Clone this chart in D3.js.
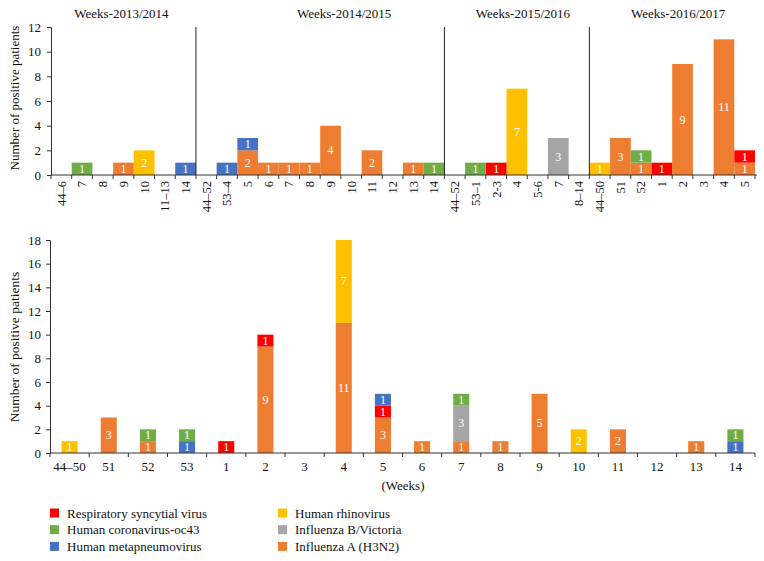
<!DOCTYPE html>
<html><head><meta charset="utf-8">
<script src="https://cdn.jsdelivr.net/npm/d3@7"></script>
<style>
body{margin:0;background:#fff;}
svg text{font-family:"Liberation Serif","Times New Roman",serif;}
</style></head>
<body><svg id="c" width="764" height="561"></svg>
<script>
// ---- data ----
const seriesNames = ["Influenza A (H3N2)","Influenza B/Victoria","Human rhinovirus","Respiratory syncytial virus","Human metapneumovirus","Human coronavirus-oc43"];
const seriesColors = ["#ED7D31","#A5A5A5","#FFC000","#FF0000","#4472C4","#70AD47"];
const legendOrder = ["Respiratory syncytial virus","Human coronavirus-oc43","Human metapneumovirus","Human rhinovirus","Influenza B/Victoria","Influenza A (H3N2)"];

const seasonNames = ["Weeks-2013/2014","Weeks-2014/2015","Weeks-2015/2016","Weeks-2016/2017"];
const seasonSizes = [7,12,7,8];
const topWeeks = ["44–6","7","8","9","10","11–13","14",
  "44–52","53–4","5","6","7","8","9","10","11","12","13","14",
  "44–52","53–1","2-3","4","5-6","7","8–14",
  "44–50","51","52","1","2","3","4","5"];
const topH3N2   = [0,0,0,1,0,0,0, 0,0,2,1,1,1,4,0,2,0,1,0, 0,0,0,0,0,0,0, 0,3,1,0,9,0,11,1];
const topBVic   = [0,0,0,0,0,0,0, 0,0,0,0,0,0,0,0,0,0,0,0, 0,0,0,0,0,3,0, 0,0,0,0,0,0,0,0];
const topRhino  = [0,0,0,0,2,0,0, 0,0,0,0,0,0,0,0,0,0,0,0, 0,0,0,7,0,0,0, 1,0,0,0,0,0,0,0];
const topRSV    = [0,0,0,0,0,0,0, 0,0,0,0,0,0,0,0,0,0,0,0, 0,0,1,0,0,0,0, 0,0,0,1,0,0,0,1];
const topMeta   = [0,0,0,0,0,0,1, 0,1,1,0,0,0,0,0,0,0,0,0, 0,0,0,0,0,0,0, 0,0,0,0,0,0,0,0];
const topCorona = [0,1,0,0,0,0,0, 0,0,0,0,0,0,0,0,0,0,0,1, 0,1,0,0,0,0,0, 0,0,1,0,0,0,0,0];
const topTicks = [0,2,4,6,8,10,12];

const botWeeks = ["44–50","51","52","53","1","2","3","4","5","6","7","8","9","10","11","12","13","14"];
const botH3N2   = [0,3,1,0,0,9,0,11,3,1,1,1,5,0,2,0,1,0];
const botBVic   = [0,0,0,0,0,0,0,0,0,0,3,0,0,0,0,0,0,0];
const botRhino  = [1,0,0,0,0,0,0,7,0,0,0,0,0,2,0,0,0,0];
const botRSV    = [0,0,0,0,1,1,0,0,1,0,0,0,0,0,0,0,0,0];
const botMeta   = [0,0,0,1,0,0,0,0,1,0,0,0,0,0,0,0,0,1];
const botCorona = [0,0,1,1,0,0,0,0,0,0,1,0,0,0,0,0,0,1];
const botTicks = [0,2,4,6,8,10,12,14,16,18];

// ---- drawing ----
const svg = d3.select("#c");
const color = d3.scaleOrdinal(seriesNames, seriesColors);

function buildRows(weeks, arrs){
  return weeks.map((w,i)=>{
    const r = {key:i, week:w};
    seriesNames.forEach((s,j)=>{ r[s]=arrs[j][i]; });
    return r;
  });
}

function drawStack(g, rows, x, y){
  const stacked = d3.stack().keys(seriesNames)(rows);
  stacked.forEach(layer=>{
    const lg = g.append("g");
    layer.forEach(d=>{
      const v = d[1]-d[0];
      if(v<=0) return;
      lg.append("rect")
        .attr("x", x(d.data.key)).attr("width", x.bandwidth())
        .attr("y", y(d[1])).attr("height", y(d[0])-y(d[1]))
        .attr("fill", color(layer.key));
      lg.append("text")
        .attr("x", x(d.data.key)+x.bandwidth()/2)
        .attr("y", (y(d[0])+y(d[1]))/2)
        .attr("dy","0.34em").attr("text-anchor","middle")
        .attr("fill","#fff").attr("font-size",12)
        .text(v);
    });
  });
}

// ---- top chart ----
const topRows = buildRows(topWeeks, [topH3N2,topBVic,topRhino,topRSV,topMeta,topCorona]);
const xT = d3.scaleBand().domain(topRows.map(d=>d.key)).range([51,755]).padding(0);
const yT = d3.scaleLinear().domain([0,12]).range([175,27]);
const gT = svg.append("g");
drawStack(gT, topRows, xT, yT);

const yAxT = gT.append("g").attr("transform","translate(51,0)")
  .call(d3.axisLeft(yT).tickValues(topTicks).tickSize(4).tickPadding(6).tickFormat(d3.format("d")));
yAxT.attr("font-family",null);
yAxT.selectAll("text").attr("font-size",13).attr("fill","#111");
yAxT.selectAll("line,path").attr("stroke","#333");

gT.append("line").attr("x1",51).attr("x2",757).attr("y1",175).attr("y2",175).attr("stroke","#333");
d3.range(topWeeks.length+1).forEach(i=>{
  const xx = 51 + i*xT.step();
  gT.append("line").attr("x1",xx).attr("x2",xx).attr("y1",175).attr("y2",179).attr("stroke","#333");
});
topRows.forEach(d=>{
  const cx = xT(d.key)+xT.bandwidth()/2;
  gT.append("text").attr("transform",`translate(${cx},181) rotate(-90)`)
    .attr("text-anchor","end").attr("dy","0.35em").attr("font-size",12.5).attr("fill","#111").text(d.week);
});
const titleShift = [-2, 24, 6, 6];
let acc = 0;
seasonNames.forEach((s,i)=>{
  const x0 = 51 + acc*xT.step();
  const x1 = 51 + (acc+seasonSizes[i])*xT.step();
  if(i>0){
    gT.append("line").attr("x1",x0).attr("x2",x0).attr("y1",27).attr("y2",175).attr("stroke","#222").attr("stroke-width",1);
  }
  gT.append("text").attr("x",(x0+x1)/2+titleShift[i]).attr("y",18).attr("text-anchor","middle")
    .attr("font-size",13).attr("fill","#111").text(s);
  acc += seasonSizes[i];
});
gT.append("text").attr("transform","translate(19,98) rotate(-90)").attr("text-anchor","middle")
  .attr("font-size",13).attr("fill","#111").text("Number of positive patients");

// ---- bottom chart ----
const botRows = buildRows(botWeeks, [botH3N2,botBVic,botRhino,botRSV,botMeta,botCorona]);
const xB = d3.scaleBand().domain(botRows.map(d=>d.key)).range([50,755]).paddingInner(0.59).paddingOuter(0.295);
const yB = d3.scaleLinear().domain([0,18]).range([453,240]);
const gB = svg.append("g");
drawStack(gB, botRows, xB, yB);

const yAxB = gB.append("g").attr("transform","translate(50,0)")
  .call(d3.axisLeft(yB).tickValues(botTicks).tickSize(4).tickPadding(5).tickFormat(d3.format("d")));
yAxB.attr("font-family",null);
yAxB.selectAll("text").attr("font-size",13).attr("fill","#111");
yAxB.selectAll("line,path").attr("stroke","#333");
gB.append("line").attr("x1",50).attr("x2",755).attr("y1",453).attr("y2",453).attr("stroke","#333");
d3.range(botWeeks.length+1).forEach(i=>{
  const xx = 50 + i*xB.step();
  gB.append("line").attr("x1",xx).attr("x2",xx).attr("y1",453).attr("y2",457).attr("stroke","#333");
});
botRows.forEach(d=>{
  gB.append("text").attr("x",xB(d.key)+xB.bandwidth()/2).attr("y",471)
    .attr("text-anchor","middle").attr("font-size",13).attr("fill","#111").text(d.week);
});
gB.append("text").attr("x",403).attr("y",490).attr("text-anchor","middle").attr("font-size",13).attr("fill","#111").text("(Weeks)");
gB.append("text").attr("transform","translate(19,347) rotate(-90)").attr("text-anchor","middle")
  .attr("font-size",13.5).attr("fill","#111").text("Number of positive patients");

// ---- legend ----
const lg = svg.append("g");
legendOrder.forEach((s,i)=>{
  const col = Math.floor(i/3), row = i%3;
  const lx = col===0 ? 50 : 278;
  const ly = 513 + row*16.7;
  lg.append("rect").attr("x",lx).attr("y",ly-4.5).attr("width",9).attr("height",9).attr("fill",color(s));
  lg.append("text").attr("x",lx+17).attr("y",ly).attr("dy","0.35em").attr("font-size",13).attr("fill","#111").text(s);
});
</script></body></html>
